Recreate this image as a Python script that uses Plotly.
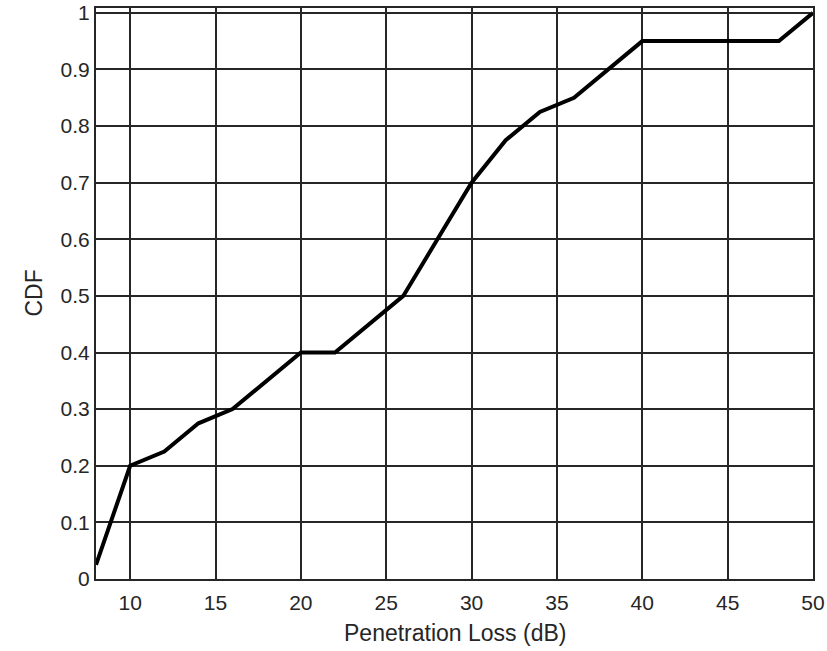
import plotly.graph_objects as go

loss_db = [8, 10, 12, 14, 16, 18, 20, 22, 24, 26, 28, 30, 32, 34, 36, 38, 40, 42, 44, 46, 48, 50]
cdf = [0.025, 0.2, 0.225, 0.275, 0.3, 0.35, 0.4, 0.4, 0.45, 0.5, 0.6, 0.7, 0.775, 0.825, 0.85, 0.9, 0.95, 0.95, 0.95, 0.95, 0.95, 1.0]

x_ticks = [10, 15, 20, 25, 30, 35, 40, 45, 50]
y_ticks = [0, 0.1, 0.2, 0.3, 0.4, 0.5, 0.6, 0.7, 0.8, 0.9, 1]
y_labels = ["0", "0.1", "0.2", "0.3", "0.4", "0.5", "0.6", "0.7", "0.8", "0.9", "1"]

fig = go.Figure()
fig.add_trace(go.Scatter(x=loss_db, y=cdf, mode="lines",
                         line=dict(color="black", width=4), showlegend=False))

fam = "Liberation Sans, Arial, sans-serif"
tick_font = dict(family=fam, size=21, color="#262626")
title_font = dict(family=fam, size=23, color="#262626")
axis_common = dict(showline=True, mirror="ticks", linecolor="#262626", linewidth=2,
                   showgrid=True, gridcolor="#262626", gridwidth=2,
                   ticks="inside", ticklen=5, tickcolor="#262626", tickwidth=1,
                   zeroline=False, tickfont=tick_font, automargin=False)

fig.update_xaxes(range=[8, 50], tickvals=x_ticks, ticktext=[str(v) for v in x_ticks],
                 ticklabelstandoff=4, **axis_common)
fig.update_yaxes(range=[0, 1.0085], tickvals=y_ticks, ticktext=y_labels, **axis_common)

fig.add_annotation(text="Penetration Loss (dB)", x=0.5, y=0, xref="paper", yref="paper",
                   xanchor="center", yanchor="middle", yshift=-54, showarrow=False,
                   font=title_font)
fig.add_annotation(text="CDF", x=0, y=0.5, xref="paper", yref="paper", textangle=-90,
                   xanchor="center", yanchor="middle", xshift=-63, showarrow=False,
                   font=title_font)

fig.update_layout(width=827, height=651, paper_bgcolor="white", plot_bgcolor="white",
                  margin=dict(l=96, r=14, t=8, b=72), font=tick_font)

fig.write_html("out.html")
